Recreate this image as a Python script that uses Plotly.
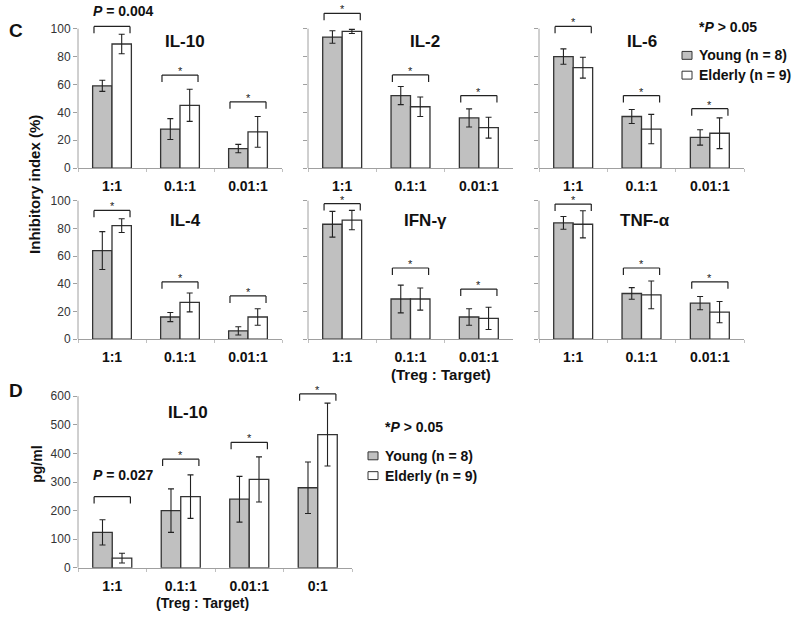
import plotly.graph_objects as go

W, H = 800, 625
FONT = "Liberation Sans, Arial, sans-serif"

# ---------------- data ----------------
ratios_c = ["1:1", "0.1:1", "0.01:1"]
ratios_d = ["1:1", "0.1:1", "0.01:1", "0:1"]

il10_young = [59, 28, 14]
il10_young_sd = [4, 7.5, 3]
il10_elderly = [89, 45, 26]
il10_elderly_sd = [7, 11.5, 11]
il10_bracket = [101.6, 66.7, 47.5]
il10_sig = ["<i>P</i> = 0.004", "*", "*"]

il2_young = [94, 52, 36]
il2_young_sd = [4.5, 6.5, 6.5]
il2_elderly = [98, 44, 29]
il2_elderly_sd = [1.5, 7, 7.5]
il2_bracket = [111, 66.8, 52]
il2_sig = ["*", "*", "*"]

il6_young = [80, 37, 22]
il6_young_sd = [5.5, 5, 5.5]
il6_elderly = [72, 28, 25]
il6_elderly_sd = [7.5, 10.5, 11]
il6_bracket = [101.6, 52, 42.6]
il6_sig = ["*", "*", "*"]

il4_young = [64, 16, 6]
il4_young_sd = [13.7, 3.3, 3]
il4_elderly = [82, 26.5, 16]
il4_elderly_sd = [5, 6.8, 6]
il4_bracket = [93, 41.4, 31.2]
il4_sig = ["*", "*", "*"]

ifn_young = [83, 29, 16]
ifn_young_sd = [9.3, 10, 6]
ifn_elderly = [86, 29, 15]
ifn_elderly_sd = [7, 8, 8]
ifn_bracket = [97.9, 51.4, 36.2]
ifn_sig = ["*", "*", "*"]

tnf_young = [84, 33, 26]
tnf_young_sd = [4.6, 4.2, 4.8]
tnf_elderly = [83, 32, 19.5]
tnf_elderly_sd = [9.8, 10, 7.7]
tnf_bracket = [97.6, 51.4, 41.4]
tnf_sig = ["*", "*", "*"]

d_young = [124, 200, 240, 280]
d_young_sd = [44, 76, 80, 90]
d_elderly = [34, 249, 309, 466]
d_elderly_sd = [17, 76, 79, 110]
d_bracket = [249, 380, 439, 608]
d_sig = ["<i>P</i> = 0.027", "*", "*", "*"]

ticks_c = [0, 20, 40, 60, 80, 100]
ticks_d = [0, 100, 200, 300, 400, 500, 600]

young_label = "Young (n = 8)"
elderly_label = "Elderly (n = 9)"
sig_note = "*<i>P</i> > 0.05"

# ---------------- layout helpers ----------------
def fx(px):
    return px / W


def fy(py):
    return 1 - py / H


panels = [
    dict(title="IL-10", cats=ratios_c, y=il10_young, ys=il10_young_sd, e=il10_elderly, es=il10_elderly_sd,
         br=il10_bracket, sig=il10_sig, xd=(78, 282), yd=(170, 0), top=120.57, tv=ticks_c, lab=True,
         tpos=(185, 42), pshift=15),
    dict(title="IL-2", cats=ratios_c, y=il2_young, ys=il2_young_sd, e=il2_elderly, es=il2_elderly_sd,
         br=il2_bracket, sig=il2_sig, xd=(308, 513), yd=(170, 0), top=120.57, tv=ticks_c, lab=False,
         tpos=(425, 42), pshift=15),
    dict(title="IL-6", cats=ratios_c, y=il6_young, ys=il6_young_sd, e=il6_elderly, es=il6_elderly_sd,
         br=il6_bracket, sig=il6_sig, xd=(539, 744), yd=(170, 0), top=120.57, tv=ticks_c, lab=False,
         tpos=(642, 42), pshift=15),
    dict(title="IL-4", cats=ratios_c, y=il4_young, ys=il4_young_sd, e=il4_elderly, es=il4_elderly_sd,
         br=il4_bracket, sig=il4_sig, xd=(78, 282), yd=(343, 190), top=109.29, tv=ticks_c, lab=True,
         tpos=(185, 223), pshift=15),
    dict(title="IFN-γ", cats=ratios_c, y=ifn_young, ys=ifn_young_sd, e=ifn_elderly, es=ifn_elderly_sd,
         br=ifn_bracket, sig=ifn_sig, xd=(308, 513), yd=(343, 190), top=109.29, tv=ticks_c, lab=False,
         tpos=(425, 223), pshift=15),
    dict(title="TNF-α", cats=ratios_c, y=tnf_young, ys=tnf_young_sd, e=tnf_elderly, es=tnf_elderly_sd,
         br=tnf_bracket, sig=tnf_sig, xd=(539, 744), yd=(343, 190), top=109.29, tv=ticks_c, lab=False,
         tpos=(645, 223), pshift=15),
    dict(title="IL-10", cats=ratios_d, y=d_young, ys=d_young_sd, e=d_elderly, es=d_elderly_sd,
         br=d_bracket, sig=d_sig, xd=(78, 352), yd=(574.3, 385), top=654.3, tv=ticks_d, lab=True,
         tpos=(188, 417), pshift=22),
]

fig = go.Figure()
shapes = []
annotations = []
layout_axes = {}

AXIS_GRAY = "#a0a0a0"
INK = "#222222"

for i, p in enumerate(panels, start=1):
    sfx = "" if i == 1 else str(i)
    xa, ya = "x" + sfx, "y" + sfx
    err_style = dict(type="data", color=INK, thickness=1.1, width=3)
    fig.add_trace(go.Bar(
        x=p["cats"], y=p["y"], name=young_label, xaxis=xa, yaxis=ya, showlegend=False,
        marker=dict(color="#c0c0c0", line=dict(color="#333333", width=1.3)),
        error_y=dict(array=p["ys"], **err_style), hoverinfo="skip",
    ))
    fig.add_trace(go.Bar(
        x=p["cats"], y=p["e"], name=elderly_label, xaxis=xa, yaxis=ya, showlegend=False,
        marker=dict(color="white", line=dict(color="#333333", width=1.3)),
        error_y=dict(array=p["es"], **err_style), hoverinfo="skip",
    ))

    dom_h = p["yd"][0] - p["yd"][1]
    px_per_unit = dom_h / p["top"]
    leg = 7 / px_per_unit

    layout_axes["xaxis" + sfx] = dict(
        domain=[fx(p["xd"][0]), fx(p["xd"][1])], anchor=ya, type="category",
        showline=True, linecolor=AXIS_GRAY, linewidth=1, showgrid=False, zeroline=False,
        ticks="outside", tickson="boundaries", ticklen=3, tickcolor="#c0c0c0",
        tickfont=dict(family=FONT, size=14, color="#111111", weight="bold"),
        ticklabelstandoff=5, fixedrange=True,
    )
    layout_axes["yaxis" + sfx] = dict(
        domain=[fy(p["yd"][0]), fy(p["yd"][1])], anchor=xa, range=[0, p["top"]],
        tickvals=p["tv"], showticklabels=p["lab"], ticks="outside", ticklen=4,
        tickcolor=AXIS_GRAY, showline=False, showgrid=False, zeroline=False,
        tickfont=dict(family=FONT, size=12, color="#333333"), fixedrange=True,
    )
    # y-axis line from 0 to the top tick
    shapes.append(dict(type="line", xref=xa + " domain", yref=ya, x0=0, x1=0,
                       y0=0, y1=p["tv"][-1], line=dict(color=AXIS_GRAY, width=1)))

    # significance brackets
    for k, (b, s) in enumerate(zip(p["br"], p["sig"])):
        x0, x1 = k - 0.265, k + 0.265
        line = dict(color=INK, width=1.2)
        shapes.append(dict(type="line", xref=xa, yref=ya, x0=x0, x1=x1, y0=b, y1=b, line=line))
        shapes.append(dict(type="line", xref=xa, yref=ya, x0=x0, x1=x0, y0=b, y1=b - leg, line=line))
        shapes.append(dict(type="line", xref=xa, yref=ya, x0=x1, x1=x1, y0=b, y1=b - leg, line=line))
        if s == "*":
            annotations.append(dict(xref=xa, yref=ya, x=k, y=b, text="*", showarrow=False,
                                    yanchor="bottom", yshift=-4,
                                    font=dict(family=FONT, size=11, color=INK)))
        else:
            annotations.append(dict(xref=xa, yref=ya, x=x0 - 0.04, y=b, text="<b>" + s + "</b>",
                                    showarrow=False, xanchor="left", yanchor="middle",
                                    yshift=p["pshift"],
                                    font=dict(family=FONT, size=14, color="#111111")))

    annotations.append(dict(xref="paper", yref="paper", x=fx(p["tpos"][0]), y=fy(p["tpos"][1]),
                            text="<b>" + p["title"] + "</b>", showarrow=False,
                            xanchor="center", yanchor="middle",
                            font=dict(family=FONT, size=17, color="#111111")))


def text_ann(x, y, text, size, anchor="center", angle=0):
    annotations.append(dict(xref="paper", yref="paper", x=fx(x), y=fy(y), text=text,
                            showarrow=False, xanchor=anchor, yanchor="middle", textangle=angle,
                            font=dict(family=FONT, size=size, color="#111111")))


text_ann(16, 31, "<b>C</b>", 19)
text_ann(16, 395, "<b>D</b>", 19)
text_ann(35, 187, "<b>Inhibitory index (%)</b>", 15, angle=-90)
text_ann(441, 379, "<b>(Treg : Target)</b>", 15)
text_ann(202, 610, "<b>(Treg : Target)</b>", 14)
text_ann(37, 470, "<b>pg/ml</b>", 14, angle=-90)

# legends (C and D)
for lx, ly in [(697, 27), (383, 432)]:
    text_ann(lx, ly, "<b>" + sig_note + "</b>", 14, anchor="left")
    text_ann(lx, ly + 29, "<b>" + young_label + "</b>", 14, anchor="left")
    text_ann(lx, ly + 49, "<b>" + elderly_label + "</b>", 14, anchor="left")
    for dy, col in [(29, "#c0c0c0"), (49, "white")]:
        shapes.append(dict(type="rect", xref="paper", yref="paper",
                           x0=fx(lx - 15), x1=fx(lx - 5), y0=fy(ly + dy + 4), y1=fy(ly + dy - 4),
                           fillcolor=col, line=dict(color="#333333", width=1)))

fig.update_layout(
    width=W, height=H, autosize=False,
    margin=dict(l=0, r=0, t=0, b=0),
    paper_bgcolor="white", plot_bgcolor="white",
    barmode="group", bargap=0.43, bargroupgap=0,
    showlegend=False, hovermode=False,
    shapes=shapes, annotations=annotations,
    font=dict(family=FONT),
    **layout_axes,
)

fig.write_html("out.html", config={"displayModeBar": False, "staticPlot": True},
               post_script="document.body.style.margin='0';document.body.style.overflow='hidden';")
